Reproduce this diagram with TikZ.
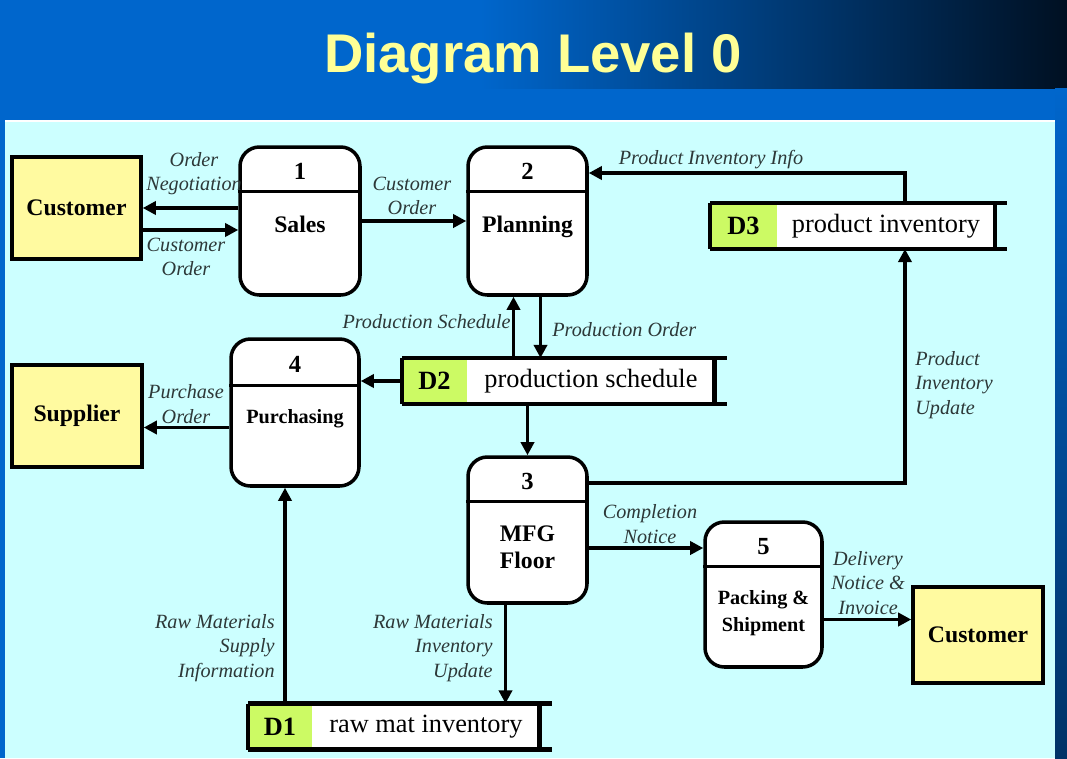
\documentclass[tikz,border=0pt]{standalone}
\usepackage{fontspec}
\setmainfont{Liberation Serif}
\newfontfamily\titlefont{Liberation Sans}
\usetikzlibrary{arrows.meta,calc,positioning}

\definecolor{slideblue}{RGB}{0,102,204}
\definecolor{slidedark}{RGB}{0,16,34}
\definecolor{panelcyan}{RGB}{204,255,255}
\definecolor{entyellow}{RGB}{255,250,160}
\definecolor{storegreen}{RGB}{204,250,100}
\definecolor{titleyellow}{RGB}{255,255,150}
\definecolor{flowtext}{RGB}{45,56,56}

\tikzset{
  entity/.style={draw, line width=2pt, fill=entyellow, inner sep=0pt,
    font=\fontsize{13.5}{16}\selectfont\bfseries},
  proc/.style={draw, line width=2pt, fill=white, rounded corners=11pt, inner sep=0pt},
  procnum/.style={inner sep=0pt, font=\fontsize{14}{16}\selectfont\bfseries},
  procname/.style={inner sep=0pt, align=center},
  storeid/.style={fill=storegreen, minimum height=0.92cm, inner sep=0pt, outer sep=0pt,
    font=\fontsize{15}{18}\selectfont\bfseries},
  storetxt/.style={fill=white, minimum height=0.92cm, inner sep=0pt, outer sep=0pt,
    font=\fontsize{15}{18}\selectfont},
  storeline/.style={line width=2.8pt},
  flow/.style={line width=2pt, -{Triangle[length=7.5pt,width=7.5pt]}},
  flowlabel/.style={inner sep=0pt, text=flowtext, font=\fontsize{11.5}{13.8}\selectfont\itshape}
}

% name, centre, width, height, top part, number, font size, label
\newcommand{\dfdproc}[8]{%
  \node[proc, minimum width=#3, minimum height=#4] (#1) at (#2) {};
  \draw[line width=2pt] ($(#1.north west)+(0,#5)$) -- ($(#1.north east)+(0,#5)$);
  \node[procnum] (#1-num) at ($(#1.north)+(0,#5/2+3)$) {#6};
  \node[procname, anchor=north, font=\fontsize{#7}{15.5}\selectfont\bfseries]
    (#1-name) at ($(#1.north)+(0,#5+24)$) {#8};
}

% name, left point, id width, text width, id, text
\newcommand{\dfdstore}[6]{%
  \node[storeid, minimum width=#3, anchor=west] (#1-id) at (#2) {#5};
  \node[storetxt, minimum width=#4, anchor=west] (#1) at (#1-id.east) {#6};
  \draw[storeline] (#1-id.north west) -- ($(#1.north east)+(12,0)$);
  \draw[storeline] (#1-id.south west) -- ($(#1.south east)+(12,0)$);
  \draw[storeline] (#1-id.north west) -- (#1-id.south west);
  \draw[storeline] (#1.north east) -- (#1.south east);
}

\begin{document}
\begin{tikzpicture}[x=0.02cm, y=-0.02cm]
  \useasboundingbox (0,0) rectangle (1067,758);

  % Slide background
  \fill[slideblue] (0,0) rectangle (1067,758);
  \shade[left color=slideblue, right color=slidedark] (480,0) rectangle (1067,88);
  \shade[top color=slideblue, bottom color=slidedark!60!slideblue] (1055,88) rectangle (1067,758);
  \fill[panelcyan] (5,121) rectangle (1055,758);
  \draw[white, line width=0.8pt] (5,121) -- (1055,121);
  \node[anchor=base, text=titleyellow, font=\titlefont\fontsize{31}{36}\selectfont\bfseries]
    (title) at (533,72) {Diagram Level 0};

  % External entities
  \node[entity, minimum width=2.58cm, minimum height=2.04cm] (cust1) at (76.5,208) {Customer};
  \node[entity, minimum width=2.6cm, minimum height=2.04cm] (supp) at (77,416) {Supplier};
  \node[entity, minimum width=2.6cm, minimum height=1.92cm] (cust2) at (978,635) {Customer};

  % Processes
  \dfdproc{sales}{300,221}{2.4cm}{2.96cm}{46}{1}{13.5}{Sales}
  \dfdproc{planning}{527.5,221}{2.38cm}{2.96cm}{46}{2}{13.5}{Planning}
  \dfdproc{purch}{295,412.5}{2.56cm}{2.94cm}{48}{4}{11.5}{Purchasing}
  \dfdproc{mfg}{527.5,530}{2.38cm}{2.92cm}{46}{3}{13.5}{MFG\\Floor}
  \dfdproc{pack}{763.5,594.5}{2.34cm}{2.9cm}{46}{5}{11.5}{Packing \&\\Shipment}

  % Data stores
  \dfdstore{d3}{710,226}{1.34cm}{4.36cm}{D3}{product inventory}
  \dfdstore{d2}{402,381}{1.3cm}{4.96cm}{D2}{production schedule}
  \dfdstore{d1}{248,726.5}{1.28cm}{4.56cm}{D1}{raw mat inventory}

  % Customer and sales
  \draw[flow] (sales.west |- cust1.east) -- (cust1.east);
  \coordinate (co) at ($(cust1.east)+(0,22)$);
  \draw[flow] (co) -- (co -| sales.west);
  \draw[flow] (sales.east) -- (planning.west);

  % Product inventory
  \coordinate (pii) at ($(d3.north)+(19,0)$);
  \coordinate (piin) at ($(planning.east)+(0,-48)$);
  \draw[flow] (pii) |- (piin);
  \coordinate (piu) at ($(mfg.east)+(0,-47)$);
  \draw[flow] (piu) -| (pii |- d3.south);

  % Planning and schedule
  \coordinate (ps) at ($(planning.south)+(-14,0)$);
  \draw[flow] (ps |- d2.north) -- (ps);
  \coordinate (po) at ($(planning.south)+(13,0)$);
  \draw[flow] (po) -- (po |- d2.north);
  \draw[flow] (d2-id.west) -- (d2-id.west -| purch.east);
  \draw[flow] (mfg.north |- d2.south) -- (mfg.north);

  % Purchasing
  \coordinate (pur) at ($(purch.west)+(0,15)$);
  \draw[flow] (pur) -- (pur -| supp.east);
  \coordinate (rs) at ($(purch.south)+(-10,0)$);
  \draw[flow] (rs |- d1-id.north) -- (rs);
  \coordinate (ri) at ($(mfg.south)+(-22,0)$);
  \draw[flow] (ri) -- (ri |- d1.north);

  % Shipping
  \coordinate (cn) at ($(mfg.east)+(0,18)$);
  \draw[flow] (cn) -- (cn -| pack.west);
  \coordinate (dn) at ($(pack.east)+(0,25)$);
  \draw[flow] (dn) -- (dn -| cust2.west);

  % Flow labels
  \node[flowlabel, align=center] (l-neg) at (194,174) {Order\\Negotiation};
  \node[flowlabel, align=center] (l-co1) at (186,257) {Customer\\Order};
  \node[flowlabel, align=center] (l-co2) at (412,196) {Customer\\Order};
  \node[flowlabel] (l-pii) at (711,160) {Product Inventory Info};
  \node[flowlabel, anchor=east] (l-ps) at (511,322) {Production Schedule};
  \node[flowlabel, anchor=west] (l-po) at (552,330) {Production Order};
  \node[flowlabel, align=center] (l-pur) at (186,404) {Purchase\\Order};
  \node[flowlabel, align=left, anchor=west] (l-piu) at (915,385) {Product\\Inventory\\Update};
  \node[flowlabel, align=center] (l-cn) at (650,524) {Completion\\Notice};
  \node[flowlabel, align=center] (l-dn) at (868,583) {Delivery\\Notice \&\\Invoice};
  \node[flowlabel, align=right, anchor=east] (l-rs) at (275,648) {Raw Materials\\Supply\\Information};
  \node[flowlabel, align=right, anchor=east] (l-ri) at (493,648) {Raw Materials\\Inventory\\Update};
\end{tikzpicture}
\end{document}
